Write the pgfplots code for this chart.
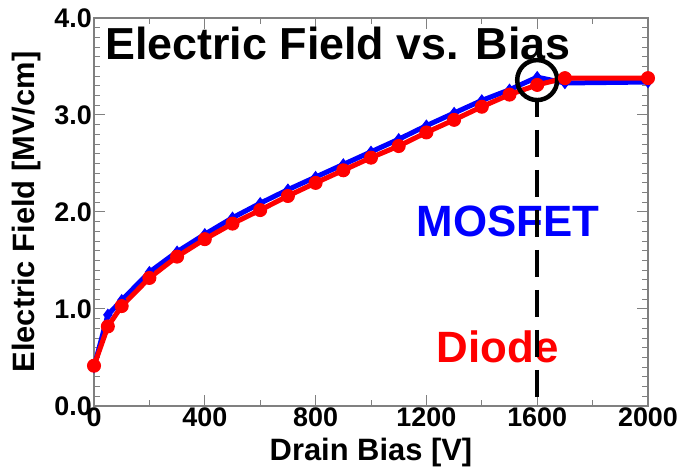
\documentclass[border=0pt]{standalone}
\usepackage{pgfplots}
\pgfplotsset{compat=1.18}
\usepackage{fontspec}
\setmainfont{Liberation Sans}
\begin{document}
\begin{tikzpicture}
\begin{axis}[
  scale only axis, width=554bp, height=388bp,
  xmin=0, xmax=2000, ymin=0, ymax=4,
  xtick={0,400,800,1200,1600,2000}, minor x tick num=1,
  ytick={0,1,2,3,4}, minor y tick num=9,
  tick align=inside,
  major tick length=11bp, minor tick length=6bp,
  axis line style={draw=black!50, line width=1.5bp},
  every tick/.style={draw=black!50, line width=1bp},
  /pgf/number format/assume math mode=true,
  xticklabel style={font=\fontsize{27}{27}\selectfont\bfseries, /pgf/number format/1000 sep={}, inner sep=2bp},
  yticklabel style={font=\fontsize{27}{27}\selectfont\bfseries, /pgf/number format/fixed, /pgf/number format/fixed zerofill, /pgf/number format/precision=1, inner sep=1bp, xshift=-1bp},
  xlabel={Drain Bias [V]}, ylabel={Electric Field [MV/cm]},
  label style={font=\fontsize{31}{31}\selectfont\bfseries},
  xlabel style={at={(axis description cs:0.5,-0.1186)}, anchor=center},
  ylabel style={at={(axis description cs:-0.121,0.5)}, anchor=center},
  clip=false,
]
\addplot[blue, line width=5bp, mark=diamond*, mark size=5.5bp, mark options={solid, line width=1bp}] coordinates {
(0,0.40) (50,0.94) (100,1.09) (200,1.38) (300,1.59) (400,1.77) (500,1.94) (600,2.09) (700,2.23) (800,2.36) (900,2.49) (1000,2.62) (1100,2.75) (1200,2.89) (1300,3.02) (1400,3.15) (1500,3.26) (1600,3.39) (1700,3.33) (2000,3.34)
};
\addplot[red, line width=5bp, mark=*, mark size=6.5bp, mark options={solid, line width=1bp}] coordinates {
(0,0.415) (50,0.82) (100,1.03) (200,1.32) (300,1.54) (400,1.72) (500,1.88) (600,2.02) (700,2.165) (800,2.30) (900,2.43) (1000,2.56) (1100,2.68) (1200,2.82) (1300,2.95) (1400,3.085) (1500,3.21) (1600,3.31) (1700,3.38) (2000,3.38)
};
\node[anchor=west, inner sep=0pt, font=\fontsize{45}{45}\selectfont\bfseries] at (axis cs:40,3.74) {Electric Field vs. Bias};
\node[inner sep=0pt, text=blue, font=\fontsize{44}{44}\selectfont\bfseries] at (axis cs:1494,1.90) {MOSFET};
\node[inner sep=0pt, text=red, font=\fontsize{44}{44}\selectfont\bfseries] at (axis cs:1458,0.61) {Diode};
\draw[black, line width=4.5bp] (axis cs:1600,3.36) circle[radius=20bp];
\draw[black, line width=4bp, dash pattern=on 27bp off 13bp, dash phase=10bp] (axis cs:1600,3.155) -- (axis cs:1600,0);
\path (rel axis cs:0,0) ++(-94bp,-63bp) (rel axis cs:1,1) ++(37bp,18bp);
\end{axis}
\end{tikzpicture}
\end{document}
